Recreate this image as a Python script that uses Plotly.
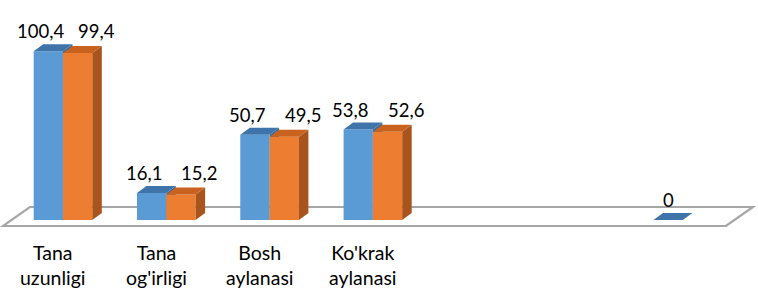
import plotly.graph_objects as go

# ---- data ----
categories = ["Tana<br>uzunligi", "Tana<br>og'irligi", "Bosh<br>aylanasi", "Ko'krak<br>aylanasi", "", "", ""]
series1 = [100.4, 16.1, 50.7, 53.8, None, None, 0]
series2 = [99.4, 15.2, 49.5, 52.6, None, None, None]
labels1 = ["100,4", "16,1", "50,7", "53,8", "", "", "0"]
labels2 = ["99,4", "15,2", "49,5", "52,6", "", "", ""]

# ---- styling / geometry (pixel model) ----
W, H = 758, 289
XPX = 103.3      # px per category
YPX = 1.68       # px per value unit
X0PX = 63        # px of category 0 group centre
Y0PX = 220       # px of value 0
BW = 29.3 / XPX  # bar width in category units
DX = 9.5 / XPX   # bar depth shift
DY = 7.0 / YPX
FLOOR_FRONT = (-8.5 / XPX, -6.0 / YPX)
FLOOR_BACK = (18.5 / XPX, 13.0 / YPX)

BLUE, BLUE_TOP, BLUE_SIDE = "#5B9BD5", "#3F74AA", "#3A6A9A"
ORANGE, ORANGE_TOP, ORANGE_SIDE = "#ED7D31", "#C9621F", "#A9541C"
FONT = "Lato, 'Open Sans', sans-serif"

n = len(categories)
xr = [-X0PX / XPX, (W - X0PX) / XPX]
yr = [-(H - Y0PX) / YPX, Y0PX / YPX]


def path(pts):
    return "M " + " L ".join(f"{x},{y}" for x, y in pts) + " Z"


shapes = []
# floor
fl, fr = -0.5, n - 0.5
shapes.append(dict(type="path", xref="x", yref="y", layer="below",
                   path=path([(fl + FLOOR_FRONT[0], FLOOR_FRONT[1]),
                              (fr + FLOOR_FRONT[0], FLOOR_FRONT[1]),
                              (fr + FLOOR_BACK[0], FLOOR_BACK[1]),
                              (fl + FLOOR_BACK[0], FLOOR_BACK[1])]),
                   fillcolor="white", line=dict(color="#A6A6A6", width=2.2)))


def box_faces(i, v, left, top_col, side_col, side_layer):
    x0, x1 = i + left, i + left + BW
    side = dict(type="path", xref="x", yref="y", layer=side_layer,
                path=path([(x1, 0), (x1 + DX, DY), (x1 + DX, v + DY), (x1, v)]),
                fillcolor=side_col, line=dict(width=0))
    top = dict(type="path", xref="x", yref="y", layer="above",
               path=path([(x0, v), (x1, v), (x1 + DX, v + DY), (x0 + DX, v + DY)]),
               fillcolor=top_col, line=dict(width=0))
    return side, top


# blue sides (below traces), then tops
for i, v in enumerate(series1):
    if v is None:
        continue
    side, top = box_faces(i, v, -BW, BLUE_TOP, BLUE_SIDE, "below")
    shapes.append(side)
    shapes.append(top)
for i, v in enumerate(series2):
    if v is None:
        continue
    side, top = box_faces(i, v, 0, ORANGE_TOP, ORANGE_SIDE, "above")
    shapes.append(side)
    shapes.append(top)

fig = go.Figure()
fig.add_trace(go.Bar(x=list(range(n)), y=series1, width=BW, offset=-BW,
                     marker=dict(color=BLUE, line=dict(width=0)), hoverinfo="skip"))
fig.add_trace(go.Bar(x=list(range(n)), y=series2, width=BW, offset=0,
                     marker=dict(color=ORANGE, line=dict(width=0)), hoverinfo="skip"))

annotations = []
LBL_UP = 20 / YPX
for i, (v1, v2) in enumerate(zip(series1, series2)):
    if v1 is not None:
        shift = -8 / XPX if v2 is not None else 0
        annotations.append(dict(x=i - BW / 2 + shift, y=v1 + LBL_UP, text=labels1[i],
                                showarrow=False, xanchor="center", yanchor="middle",
                                font=dict(family=FONT, size=18.5, color="black")))
    if v2 is not None:
        annotations.append(dict(x=i + BW / 2 + 18.5 / XPX, y=v1 + LBL_UP if v1 is not None else v2 + LBL_UP,
                                text=labels2[i], showarrow=False, xanchor="center", yanchor="middle",
                                font=dict(family=FONT, size=18.5, color="black")))
for i, c in enumerate(categories):
    if c:
        annotations.append(dict(x=i + FLOOR_FRONT[0] - 1.5 / XPX, y=-(239 - Y0PX) / YPX, text=c,
                                showarrow=False, xanchor="center", yanchor="top",
                                font=dict(family=FONT, size=19.5, color="black")))

fig.update_layout(
    width=W, height=H, margin=dict(l=0, r=0, t=0, b=0),
    paper_bgcolor="white", plot_bgcolor="white",
    barmode="overlay", showlegend=False,
    xaxis=dict(range=xr, visible=False, fixedrange=True),
    yaxis=dict(range=yr, visible=False, fixedrange=True),
    shapes=shapes, annotations=annotations,
)
fig.write_html("out.html", config={"displayModeBar": False},
               post_script="document.body.style.margin='0';document.body.style.overflow='hidden';")
